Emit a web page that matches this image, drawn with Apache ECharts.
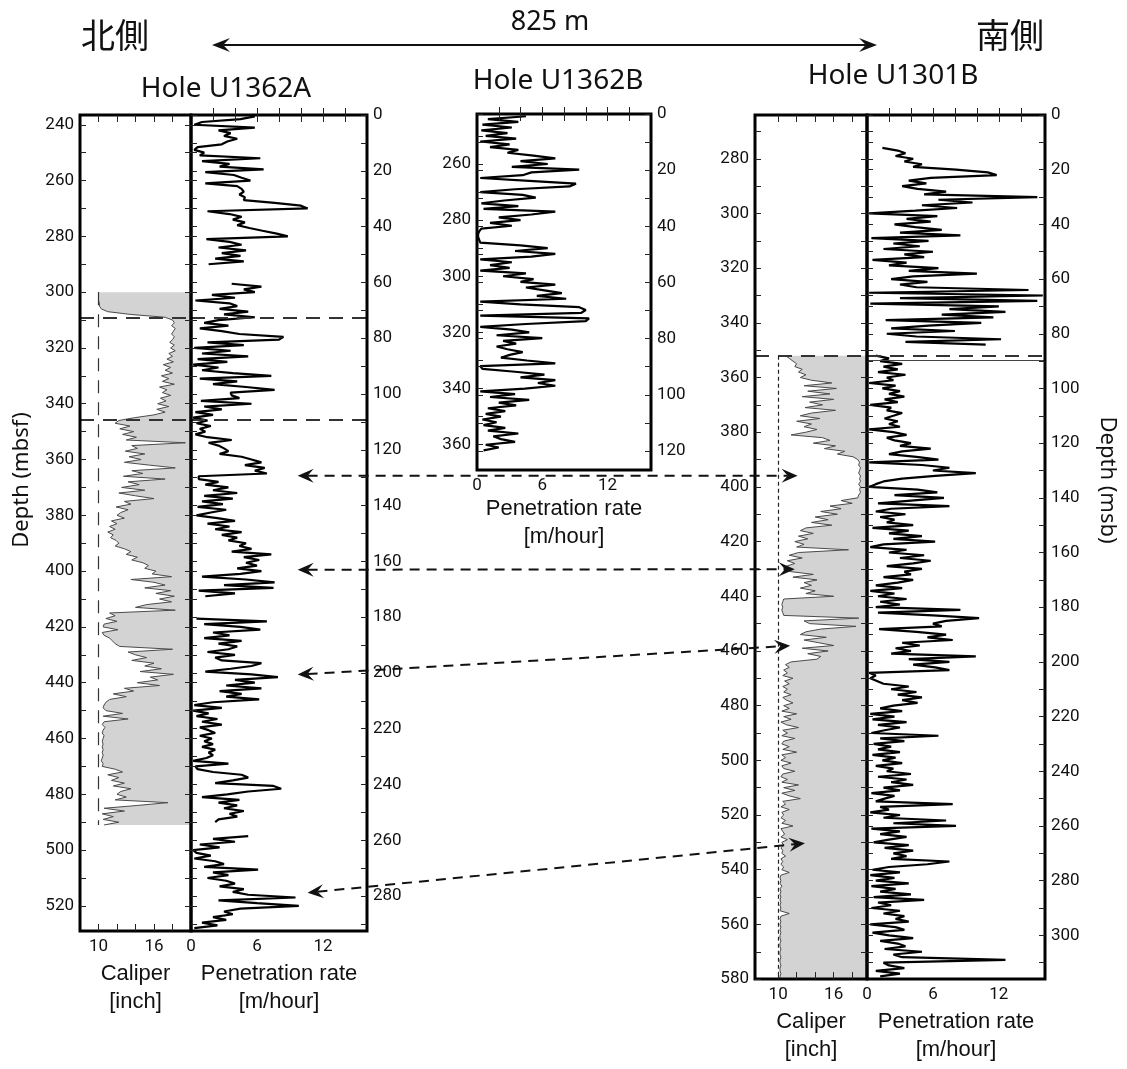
<!DOCTYPE html>
<html lang="en">
<head>
  <meta charset="UTF-8">
  <title>Caliper and penetration rate</title>
  <style>html, body { margin: 0; padding: 0; background: #fff; }</style>
</head>
<body>
  <div id="main" style="width: 1127px; height: 1069px;"></div>

<script src="https://cdn.jsdelivr.net/npm/echarts@6/dist/echarts.min.js"></script>

<script>
  // one reading per metre, starting at the given depth (mbsf); '-' = no data
  const penA_start = 237;
  const penA = [
    5.8, 4.5, 1.0, 0.3, 5.8, 2.5, 3.6, 3.0, 4.2, 3.3,
    2.8, 0.6, 0.3, 1.2, 0.8, 6.3, 1.0, 3.5, 2.6, 6.6,
    1.3, 3.9, 4.6, 5.4, 1.3, 4.2, 4.6, 4.8, 4.4, 4.9,
    4.8, 7.6, 10.0, 10.6, 1.5, 3.5, 4.6, 3.8, 4.9, 4.2,
    5.3, 6.5, 7.8, 8.8, 1.4, 3.5, 4.6, 2.5, 5.0, 2.8,
    4.5, 2.2, 4.8, 1.6, '-', '-', '-', '-', '-', '-',
    3.7, 6.4, 4.8, 5.8, 1.9, 4.0, 0.4, 3.5, 4.2, 2.6,
    5.2, 3.0, 5.8, 2.5, 1.2, 3.4, 0.8, 2.8, 4.4, 8.4,
    8.0, 1.5, 4.8, 0.3, 3.6, 1.0, 5.2, 0.6, 3.3, 0.2,
    2.5, 1.0, 3.8, 7.3, 0.8, 4.2, 2.0, 5.0, 7.6, 3.6,
    3.7, 4.4, 0.9, 5.5, 1.2, 2.8, 0.4, 2.0, 0.2, 1.5,
    0.5, 1.8, 0.8, 1.3, 0.4, 1.5, 3.7, 1.6, 2.5, 3.0,
    3.4, 2.6, 4.6, 5.5, 6.4, 4.9, 6.7, 5.8, 6.9, 0.7,
    0.7, 2.5, 1.3, 3.4, 2.0, 4.2, 1.2, 3.8, 1.0, 2.9,
    0.6, 3.2, 1.8, 0.5, 2.4, 4.0, 1.5, 3.5, 2.2, 4.6,
    2.8, 4.2, 3.4, 5.0, 4.4, 5.5, 3.7, 7.3, 4.8, 6.2,
    5.0, 6.0, 4.2, 6.4, 4.5, 1.0, 5.0, 7.6, 3.0, 7.5,
    0.7, 4.0, 1.3, '-', '-', '-', '-', '-', '-', '-',
    0.5, 6.9, 1.2, 4.5, 6.3, 2.0, 3.5, 1.2, 4.6, 2.5,
    4.2, 3.4, 1.5, 4.0, 2.2, 2.8, 6.4, 5.5, 3.6, 1.3,
    5.5, 7.9, 4.0, 5.8, 3.2, 6.4, 2.6, 4.6, 3.2, 6.2,
    2.0, 0.3, 2.8, 0.2, 1.6, 0.5, 2.4, 1.0, 2.8, 0.8,
    1.6, 2.2, 0.8, 1.9, 1.2, 2.0, 1.0, 2.2, 1.6, 2.0,
    1.4, 0.2, 3.4, 0.4, 0.6, 2.0, 4.6, 5.2, 3.8, 2.2,
    7.5, 8.2, 5.2, 3.3, 1.0, 4.4, 2.5, 4.2, 3.0, 4.8,
    3.5, 4.2, 2.5, 2.2, '-', '-', '-', '-', 5.2, 2.0,
    4.0, 0.8, 2.6, 0.2, 0.5, 1.8, 0.3, 2.2, 3.0, 1.2,
    6.1, 2.0, 3.4, 1.5, 3.2, 4.0, 2.6, 4.8, 3.8, 5.2,
    9.5, 2.5, 6.0, 9.8, 4.5, 3.0, 3.8, 2.0, 3.2, 1.0,
    2.4, 0.3
  ];

  const calA_start = 300;
  const calA = [
    10.0, 10.0, 10.0, 10.0, 10.1, 10.1, 10.3, 11.0, 13.5, 17.2,
    18.0, 18.2, 17.9, 18.3, 18.1, 17.9, 18.2, 18.0, 17.7, 18.2,
    17.8, 18.3, 17.6, 18.0, 17.4, 18.1, 17.0, 17.8, 17.2, 18.0,
    16.8, 17.6, 16.9, 18.2, 16.6, 17.4, 16.9, 17.8, 16.7, 17.3,
    16.4, 17.6, 16.3, 17.2, 16.0, 13.9, 12.2, 11.8, 13.4, 12.3,
    13.8, 12.6, 14.1, 13.0, 19.4, 13.6, 14.2, 12.9, 15.0, 13.3,
    14.6, 12.8, 15.5, 18.3, 13.6, 14.8, 12.7, 17.2, 13.2, 14.4,
    12.5, 15.0, 12.2, 14.0, 16.0, 12.8, 13.5, 11.9, 13.2, 12.4,
    12.0, 12.8, 11.4, 12.0, 11.2, 11.8, 11.0, 11.6, 11.3, 11.9,
    12.2, 11.8, 12.8, 13.5, 13.0, 14.2, 13.6, 14.8, 15.4, 15.0,
    16.2, 15.8, 17.9, 13.5, 16.0, 17.2, 15.0, 17.8, 16.2, 18.2,
    16.6, 17.9, 15.2, 14.0, 18.3, 11.2, 11.8, 10.8, 12.0, 10.6,
    10.5, 12.1, 10.4, 10.6, 11.2, 11.5, 11.8, 12.3, 18.0, 13.2,
    14.0, 15.2, 13.6, 16.0, 15.0, 16.8, 14.5, 18.1, 15.6, 16.4,
    14.2, 16.6, 12.8, 13.8, 11.6, 13.0, 11.2, 10.8, 10.6, 10.5,
    10.8, 12.6, 10.5, 13.2, 10.6, 10.4, 10.7, 10.5, 10.4, 10.6,
    10.5, 10.4, 10.5, 10.4, 10.5, 10.4, 10.5, 10.4, 10.3, 10.5,
    10.4, 11.8, 12.6, 11.0, 12.2, 11.4, 12.8, 11.6, 13.5, 12.4,
    12.0, 13.0, 11.8, 17.5, 14.2, 10.6, 12.8, 10.4, 11.6, 10.5,
    12.2, 10.6
  ];

  const penB_start = 243;
  const penB = [
    4.5, 1.0, 3.8, 0.5, 3.2, 0.4, 2.8, 0.8, 3.6, 0.3,
    3.0, 1.2, 3.8, 2.8, 5.2, 7.2, 4.0, 6.5, 3.2, 9.4,
    5.0, 4.2, 0.3, 4.8, 9.1, 8.5, 3.5, 0.3, 4.2, 5.4,
    2.5, 0.4, 3.8, 0.6, 7.2, 5.0, 2.0, 4.0, 1.2, 3.2,
    0.4, 0.2, 0.1, 0.1, 0.2, 0.3, 4.0, 6.5, 3.5, 7.2,
    5.0, 0.3, 3.2, 1.2, 3.0, 0.3, 4.5, 2.4, 5.2, 4.0,
    7.2, 4.5, 6.2, 7.8, 5.5, 8.2, 0.3, 4.0, 9.4, 10.0,
    9.6, 0.3, 10.3, 10.0, 4.5, 0.3, 3.2, 4.8, 1.8, 6.0,
    2.4, 3.6, 1.8, 2.8, 4.2, 3.0, 2.2, 4.6, 7.2, 0.3,
    0.5, 3.5, 6.2, 4.0, 7.2, 5.6, 7.2, 4.4, 0.3, 3.5,
    1.2, 4.8, 2.0, 3.6, 1.0, 2.6, 0.8, 2.2, 0.5, 1.8,
    0.6, 2.6, 1.0, 3.8, 1.5, 2.2, 3.5, 0.8, 2.0, 0.6
  ];

  const penC1_start = 276;
  const penC1 = [
    1.4, 2.8, 3.5, 2.6, 4.2, 3.4, 5.0, 4.2, 8.1, 11.0,
    11.8, 5.8, 3.8, 5.4, 3.2, 4.6, 7.2, 5.2, 15.5, 6.5,
    9.6, 5.0, 8.2, 4.4, 0.2, 6.4, 3.6, 5.8, 2.5, 4.4,
    6.8, 3.0, 8.5, 0.4, 5.6, 2.4, 4.8, 1.5, 6.0, 3.4,
    5.2, 0.5, 3.6, 2.0, 6.5, 3.8, 10.0, 4.2, 2.2, 5.5,
    3.0, 4.5, 14.7, 0.2, 16.0, 3.0, 15.5, 0.3, 12.0, 7.5,
    12.6, 6.8, 11.5, 1.7, 10.4, 5.6, 2.2, 8.0, 1.8, 4.5,
    12.2, 3.5, 10.8
  ];

  const penC2_start = 352;
  const penC2 = [
    0.8, 2.0, 1.2, 3.2, 1.5, 2.8, 1.0, 3.5, 1.8, 2.4,
    0.2, 2.6, 1.4, 3.0, 2.0, 3.4, 1.6, 2.8, 0.3, 2.2,
    1.8, 3.2, 2.4, 1.6, 2.8, 2.0, 3.0, 0.2, 2.4, 3.6,
    1.8, 2.5, 4.0, 3.0, 5.8, 3.2, 2.0, 4.5, 6.5, 0.2,
    5.0, 7.5, 6.0, 9.9, 6.2, 3.2, 1.5, 0.8, 0.2, 4.6,
    6.4, 2.5, 7.0, 4.0, 1.0, 7.5, 2.2, 0.8, 3.5, 1.2,
    2.5, 1.8, 4.2, 0.5, 3.8, 2.0, 5.0, 2.4, 6.2, 1.5,
    0.3, 3.6, 2.0, 5.2, 3.0, 5.8, 4.2, 1.8, 5.0, 3.4,
    4.0, 1.5, 4.2, 2.8, 0.8, 3.2, 0.3, 2.5, 1.0, 3.6,
    1.2, 3.0, 0.8, 8.5, 1.0, 6.0, 10.2, 7.2, 6.0, 6.8,
    1.1, 4.5, 7.2, 5.5, 7.8, 3.2, 4.8, 2.6, 4.0, 2.2,
    9.9, 3.8, 7.5, 4.2, 6.2, 7.5, 0.2, 0.8, 0.3, 0.9,
    1.5, 3.8, 2.2, 4.5, 2.8, 5.0, 3.2, 4.6, 2.4, 1.2,
    3.2, 0.3, 2.5, 0.5, 3.6, 1.0, 3.0, 1.6, 0.4, 6.5,
    1.2, 3.4, 0.6, 2.2, 1.0, 3.0, 0.5, 2.6, 1.4, 3.2,
    0.8, 2.4, 1.8, 4.0, 1.0, 3.6, 2.2, 4.2, 1.5, 3.0,
    0.4, 2.5, 1.6, 0.8, 7.8, 1.2, 2.0, 0.3, 3.0, 1.5,
    7.2, 2.4, 8.1, 0.4, 3.0, 1.2, 3.6, 2.0, 0.6, 3.8,
    1.6, 4.2, 2.4, 3.6, 2.2, 7.5, 5.5, 2.0, 0.5, 3.0,
    0.3, 2.5, 0.8, 3.8, 0.4, 2.6, 1.2, 4.0, 0.6, 5.2,
    1.0, 2.2, 0.4, 3.0, 1.5, 3.4, 2.6, 3.8, 0.3, 2.6,
    3.4, 0.5, 2.0, 4.2, 1.2, 2.8, 3.5, 1.6, 5.0, 2.4,
    3.2, 12.6, 1.5, 2.0, 3.4, 0.8, 3.0, 1.2
  ];

  const calC_start = 352;
  const calC = [
    10.8, 11.2, 11.6, 12.0, 11.8, 12.6, 12.2, 13.0, 12.4, 13.6,
    15.8, 12.8, 16.3, 13.2, 15.6, 12.6, 16.0, 13.4, 14.8, 12.9,
    16.2, 13.6, 12.4, 14.5, 12.0, 13.6, 12.8, 14.2, 13.0, 11.4,
    14.8, 15.6, 13.8, 16.2, 15.0, 17.2, 16.4, 18.1, 18.6, 18.8,
    18.7, 18.9, 18.8, 18.7, 18.9, 18.8, 18.9, 18.7, 18.9, 18.8,
    18.9, 18.7, 18.6, 16.8, 18.0, 15.6, 16.8, 14.6, 16.4, 14.0,
    15.4, 13.6, 15.8, 13.0, 12.4, 13.8, 12.2, 13.2, 11.8, 12.8,
    12.0, 17.6, 12.2, 11.2, 12.6, 11.0, 11.8, 10.9, 10.6, 11.4,
    13.8, 11.6, 14.2, 12.8, 13.6, 12.4, 14.0, 13.0, 16.0, 10.6,
    10.5, 10.4, 10.5, 10.4, 10.5, 10.6, 18.7, 12.8, 13.4, 18.4,
    14.6, 13.0, 12.4, 15.2, 12.8, 14.4, 16.0, 12.6, 15.4, 13.2,
    14.6, 14.2, 11.4, 10.8, 11.2, 10.6, 11.0, 10.5, 11.6, 10.7,
    11.2, 10.5, 11.0, 10.6, 11.4, 10.5, 10.9, 11.6, 10.6, 11.2,
    10.4, 12.0, 10.6, 11.4, 10.3, 10.9, 12.2, 10.5, 11.0, 10.4,
    11.8, 10.6, 10.4, 11.2, 10.5, 12.0, 10.4, 10.8, 10.3, 11.4,
    10.4, 10.6, 11.8, 10.5, 10.3, 11.0, 10.4, 12.2, 10.6, 11.8,
    10.4, 11.2, 12.4, 10.5, 10.8, 10.3, 11.2, 10.4, 10.6, 10.3,
    10.8, 10.4, 11.6, 10.3, 10.5, 10.7, 10.3, 11.0, 10.4, 10.6,
    10.3, 10.5, 10.4, 10.8, 10.3, 10.5, 10.3, 10.6, 10.4, 11.2,
    10.3, 10.2, 10.3, 10.2, 10.4, 10.2, 10.3, 10.2, 10.3, 10.2,
    10.3, 10.2, 10.3, 10.2, 11.2, 10.3, 10.2, 10.3, 10.2, 10.3,
    10.2, 10.3, 10.2, 10.2, 10.3, 10.2, 10.2, 10.3, 10.2, 10.2,
    10.3, 10.2, 10.2, 10.3, 10.2, 10.2, 10.3, 10.2, 10.2
  ];

  // tick labels
  const depthLabelsA = [240, 260, 280, 300, 320, 340, 360, 380, 400, 420, 440, 460, 480, 500, 520];
  const msbLabelsA = [0, 20, 40, 60, 80, 100, 120, 140, 160, 180, 200, 220, 240, 260, 280];
  const depthLabelsB = [260, 280, 300, 320, 340, 360];
  const msbLabelsB = [0, 20, 40, 60, 80, 100, 120];
  const depthLabelsC = [280, 300, 320, 340, 360, 380, 400, 420, 440, 460, 480, 500, 520, 540, 560, 580];
  const msbLabelsC = [0, 20, 40, 60, 80, 100, 120, 140, 160, 180, 200, 220, 240, 260, 280, 300];
  const caliperLabels = [10, 16];
  const caliperTicks = [10, 12, 14, 16, 18];
  const rateLabels = [0, 6, 12];
  const rateTicks = [2, 4, 6, 8, 10, 12, 14];

  // correlated levels between U1362A (penetration rate) and U1301B (caliper)
  const tieDepthA = [365.8, 399.5, 437.1, 515.3];
  const tieRateA = [9.7, 9.7, 9.7, 10.6];
  const tieDepthC = [395.9, 430.1, 458.1, 530.3];
  const tieCalC = [12.1, 11.8, 11.3, 12.9];

  const FONT = 'Roboto';
  const NAME_FONT = 'Liberation Sans';

  function pairs(start, vals) {
    return vals.map((v, i) => [v, start + i]);
  }
  function every10(a, b) {
    const out = [];
    for (let v = a; v <= b; v += 10) out.push(v);
    return out;
  }

  const myChart = echarts.init(document.getElementById('main'));

  const gridBox = { show: true, borderColor: '#000', borderWidth: 3, backgroundColor: 'transparent', z: 10 };
  const grids = [
    Object.assign({ left: 80, top: 115, width: 111, height: 816 }, gridBox),
    Object.assign({ left: 191, top: 115, width: 176, height: 816 }, gridBox),
    Object.assign({ left: 477, top: 114, width: 174, height: 356 }, gridBox),
    Object.assign({ left: 755, top: 115, width: 112, height: 872 }, gridBox),
    Object.assign({ left: 867, top: 115, width: 178, height: 872 }, gridBox)
  ];

  function yAx(grid, min, max, side, ticks, labels, inside) {
    return {
      type: 'value', gridIndex: grid, min: min, max: max, inverse: true, position: side, z: 10,
      axisLine: { show: false },
      splitLine: { show: false },
      axisTick: { show: true, inside: inside, length: 6, customValues: ticks, lineStyle: { color: '#222', width: 1 } },
      axisLabel: labels
        ? { show: true, customValues: labels, fontSize: 17, color: '#111', fontFamily: FONT, margin: 6 }
        : { show: false }
    };
  }
  function xAx(grid, min, max, side, ticks, labels, name, nameGap) {
    return {
      type: 'value', gridIndex: grid, min: min, max: max, position: side, z: 10,
      axisLine: { show: false },
      splitLine: { show: false },
      axisTick: { show: true, inside: true, length: 7, customValues: ticks, lineStyle: { color: '#222', width: 1 } },
      axisLabel: labels
        ? { show: true, customValues: labels, fontSize: 17, color: '#111', fontFamily: FONT, margin: 7 }
        : { show: false },
      name: name || '',
      nameLocation: 'middle',
      nameGap: nameGap || 0,
      nameTextStyle: { fontSize: 22, fontFamily: NAME_FONT, color: '#111', lineHeight: 28 }
    };
  }

  const xAxes = [
    xAx(0, 8, 20, 'bottom', caliperTicks, caliperLabels, 'Caliper\n[inch]', 26),      // 0
    xAx(0, 8, 20, 'top', caliperTicks, null),                                         // 1
    xAx(1, 0, 16, 'bottom', rateTicks, rateLabels, 'Penetration rate\n[m/hour]', 26), // 2
    xAx(1, 0, 16, 'top', rateTicks, null),                                            // 3
    xAx(2, 0, 16, 'bottom', rateTicks, rateLabels, 'Penetration rate\n[m/hour]', 24), // 4
    xAx(2, 0, 16, 'top', rateTicks, null),                                            // 5
    xAx(3, 7.5, 19.6, 'bottom', caliperTicks, caliperLabels, 'Caliper\n[inch]', 22),  // 6
    xAx(3, 7.5, 19.6, 'top', caliperTicks, null),                                     // 7
    xAx(4, 0, 16.2, 'bottom', rateTicks, rateLabels, 'Penetration rate\n[m/hour]', 28), // 8
    xAx(4, 0, 16.2, 'top', rateTicks, null)                                           // 9
  ];

  const yAxes = [
    yAx(0, 236.5, 529, 'left', every10(240, 520), depthLabelsA, true),   // 0
    yAx(0, 236.5, 529, 'right', every10(240, 520), null, true),          // 1
    yAx(1, 236.5, 529, 'left', every10(240, 520), null, true),           // 2
    yAx(1, 0, 292.5, 'right', every10(0, 290), msbLabelsA, false),       // 3
    yAx(1, 0, 292.5, 'right', every10(0, 290), null, true),              // 4
    yAx(2, 242.2, 369, 'left', every10(250, 360), depthLabelsB, true),   // 5
    yAx(2, 0, 126.8, 'right', every10(0, 120), msbLabelsB, false),       // 6
    yAx(2, 0, 126.8, 'right', every10(0, 120), null, true),              // 7
    yAx(3, 264, 580, 'left', every10(270, 580), depthLabelsC, true),     // 8
    yAx(3, 264, 580, 'right', every10(270, 570), null, true),            // 9
    yAx(4, 264, 580, 'left', every10(270, 570), null, true),             // 10
    yAx(4, 0, 316, 'right', every10(0, 310), msbLabelsC, false),         // 11
    yAx(4, 0, 316, 'right', every10(0, 310), null, true)                 // 12
  ];

  function fillSeries(xi, yi, pts, xmax) {
    return {
      type: 'custom', xAxisIndex: xi, yAxisIndex: yi, z: 1, silent: true,
      data: pts,
      renderItem: function (params, api) {
        if (params.dataIndex !== 0) return null;
        const poly = pts.map(p => api.coord(p));
        poly.push(api.coord([xmax, pts[pts.length - 1][1]]));
        poly.push(api.coord([xmax, pts[0][1]]));
        return { type: 'polygon', shape: { points: poly }, style: { fill: '#d3d3d3' } };
      }
    };
  }
  function traceSeries(xi, yi, pts, color, width, extra) {
    return Object.assign({
      type: 'line', xAxisIndex: xi, yAxisIndex: yi, data: pts,
      showSymbol: false, symbol: 'none', connectNulls: false, silent: true, z: 3,
      lineStyle: { color: color, width: width }
    }, extra || {});
  }

  const calAPts = pairs(calA_start, calA);
  const calCPts = pairs(calC_start, calC);

  const dashH = { type: [14, 9], color: '#333', width: 2 };

  const option = {
    animation: false,
    grid: grids,
    xAxis: xAxes,
    yAxis: yAxes,
    series: [
      fillSeries(0, 0, calAPts, 20),
      traceSeries(0, 0, calAPts, '#4a4a4a', 1, {
        markLine: {
          symbol: 'none', silent: true, label: { show: false },
          data: [
            { yAxis: 309.2, lineStyle: dashH },
            { yAxis: 345.7, lineStyle: dashH },
            [{ coord: [10, 300], lineStyle: { type: [13, 9], color: '#333', width: 1.2 } }, { coord: [10, 491] }]
          ]
        }
      }),
      traceSeries(2, 2, pairs(penA_start, penA), '#000', 2.2, {
        markLine: {
          symbol: 'none', silent: true, label: { show: false },
          data: [{ yAxis: 309.2, lineStyle: dashH }, { yAxis: 345.7, lineStyle: dashH }]
        }
      }),
      traceSeries(4, 5, pairs(penB_start, penB), '#000', 2.2),
      fillSeries(6, 8, calCPts, 19.6),
      traceSeries(6, 8, calCPts, '#4a4a4a', 1, {
        markLine: {
          symbol: 'none', silent: true, label: { show: false },
          data: [
            { yAxis: 352, lineStyle: dashH },
            [{ coord: [10, 352], lineStyle: { type: [4, 3], color: '#222', width: 1.2 } }, { coord: [10, 580] }]
          ]
        }
      }),
      traceSeries(8, 10, pairs(penC1_start, penC1), '#000', 2.2, {
        markLine: {
          symbol: 'none', silent: true, label: { show: false },
          data: [
            { yAxis: 352, lineStyle: dashH },
            { yAxis: 353.8, lineStyle: { type: 'solid', color: '#444', width: 1.2 } }
          ]
        }
      }),
      traceSeries(8, 10, pairs(penC2_start, penC2), '#000', 2.2)
    ]
  };

  myChart.setOption(option);

  // annotations: titles, distance arrow and tie arrows
  function text(x, y, str, size, family, rot) {
    return {
      type: 'text', x: x, y: y, rotation: rot || 0, z: 20,
      style: { text: str, fontSize: size, fontFamily: family, fill: '#111', align: 'center', verticalAlign: 'middle' }
    };
  }
  function head(tip, ux, uy, L, W) {
    // barbed arrow head pointing at tip, (ux, uy) = unit vector from tip backwards
    const nx = -uy, ny = ux;
    return {
      type: 'polygon', z: 20,
      shape: {
        points: [
          tip,
          [tip[0] + ux * L + nx * W, tip[1] + uy * L + ny * W],
          [tip[0] + ux * L * 0.62, tip[1] + uy * L * 0.62],
          [tip[0] + ux * L - nx * W, tip[1] + uy * L - ny * W]
        ]
      },
      style: { fill: '#111' }
    };
  }
  function doubleArrow(p1, p2, dash, L, W) {
    const dx = p2[0] - p1[0], dy = p2[1] - p1[1];
    const len = Math.sqrt(dx * dx + dy * dy);
    const ux = dx / len, uy = dy / len;
    return [
      {
        type: 'line', z: 20,
        shape: {
          x1: p1[0] + ux * L * 0.62, y1: p1[1] + uy * L * 0.62,
          x2: p2[0] - ux * L * 0.62, y2: p2[1] - uy * L * 0.62
        },
        style: { stroke: '#111', lineWidth: 2, lineDash: dash }
      },
      head(p1, ux, uy, L, W),
      head(p2, -ux, -uy, L, W)
    ];
  }

  let els = [
    text(115, 35, '北側', 34, 'Noto Sans CJK JP'),
    text(1010, 35, '南側', 34, 'Noto Sans CJK JP'),
    text(550, 22, '825 m', 27, 'Noto Sans'),
    text(226, 89, 'Hole U1362A', 28, 'Noto Sans'),
    text(558, 81, 'Hole U1362B', 28, 'Noto Sans'),
    text(893, 76, 'Hole U1301B', 28, 'Noto Sans'),
    text(22, 480, 'Depth (mbsf)', 22, 'Noto Sans', Math.PI / 2),
    text(1107, 480, 'Depth (msb)', 22, 'Noto Sans', -Math.PI / 2)
  ];
  els = els.concat(doubleArrow([212, 45], [877, 45], null, 18, 7));

  tieDepthA.forEach((d, i) => {
    const p1 = myChart.convertToPixel({ xAxisIndex: 2, yAxisIndex: 2 }, [tieRateA[i], d]);
    const p2 = myChart.convertToPixel({ xAxisIndex: 6, yAxisIndex: 8 }, [tieCalC[i], tieDepthC[i]]);
    els = els.concat(doubleArrow(p1, p2, [10, 7], 16, 7));
  });

  myChart.setOption({ graphic: { elements: els } });
</script>
</body>
</html>
